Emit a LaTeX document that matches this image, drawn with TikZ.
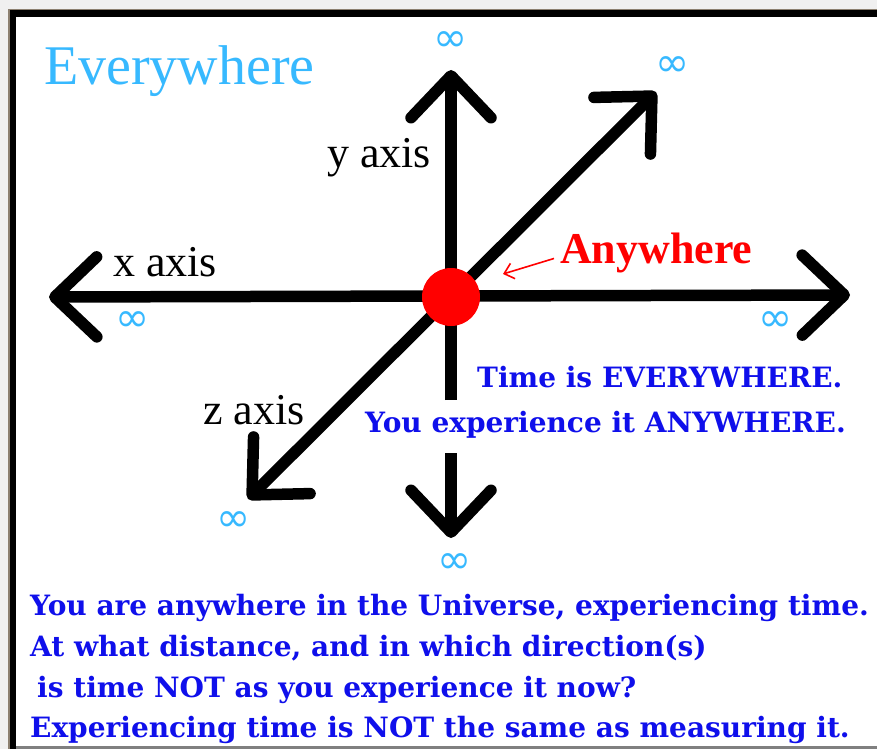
\documentclass[tikz,border=0pt]{standalone}
\usepackage{fontspec}
\setmainfont{Liberation Serif}
\newfontfamily\slabfont{DejaVu Serif}
\newfontfamily\symfont{DejaVu Sans}
\usetikzlibrary{arrows.meta}
\definecolor{skyblue}{RGB}{55,185,255}
\definecolor{textblue}{RGB}{15,15,235}
\definecolor{dotred}{RGB}{255,0,0}
\definecolor{pagegray}{RGB}{240,240,240}
\definecolor{edgebrown}{RGB}{140,128,112}

\begin{document}
\begin{tikzpicture}[
      x=1pt,y=-1pt,>={Straight Barb[length=42pt,width=80pt,round]},
      axis/.style={line width=11.5pt},
      dot/.style={circle,fill=dotred,minimum size=58pt,inner sep=0pt},
      inf/.style={text=skyblue,inner sep=0pt,font=\symfont\fontsize{41}{41}\selectfont},
      title/.style={anchor=base west,inner sep=0pt,text=skyblue,font=\fontsize{56}{56}\selectfont},
      lbl/.style={anchor=base west,inner sep=0pt,font=\fontsize{44}{44}\selectfont},
      anyw/.style={anchor=base west,inner sep=0pt,text=dotred,font=\bfseries\fontsize{44}{44}\selectfont},
      note/.style={anchor=base west,inner sep=0pt,text=textblue,font=\slabfont\bfseries\fontsize{28}{28}\selectfont},
      quote/.style={note,font=\slabfont\bfseries\fontsize{28}{28}\selectfont},
      pointer/.style={draw=dotred,line width=1.6pt,-{Straight Barb[length=9pt,width=16pt]}}]
    % frame
    \useasboundingbox (0,0) rectangle (877,749);
    \fill[pagegray] (0,0) rectangle (877,749);
    \fill[edgebrown] (8,9) rectangle (877,749);
    \fill[black] (9.5,10.5) rectangle (877,749);
    \fill[white] (16,17) rectangle (877,746);
    \fill[black!50] (16,746) rectangle (877,749);
    % axes
    \coordinate (xl) at (49,297);
    \coordinate (xr) at (850,295);
    \coordinate (yt) at (451,70);
    \coordinate (yb) at (451,538);
    \coordinate (zt) at (656,92);
    \coordinate (zb) at (248,499);
    \coordinate (ycut) at (451,400);
    \coordinate (yres) at (451,453);
    \draw[axis,<->] (xl) -- (xr);
    \draw[axis,<->] (zb) -- (zt);
    \draw[axis,->] (ycut) -- (yt);
    \draw[axis,->] (yres) -- (yb);
    \node[dot] (O) at (451,297) {};
    \foreach \n/\x/\y in {T/451/42,ZT/673/67,L/133/322,R/776/322,ZB/234/522,B/455/564}
      \node[inf] (inf\n) at (\x,\y) {∞};
    % labels
    \node[title] (every) at (44,85) {Everywhere};
    \node[lbl] (ylab) at (327,167) {y axis};
    \node[lbl] (xlab) at (113,276) {x axis};
    \node[lbl] (zlab) at (203,424) {z axis};
    \node[anyw] (any) at (560,263) {Anywhere};
    \coordinate (anytip) at (503,274);
    \draw[pointer] ([shift={(-6pt,-6pt)}]any.west) -- (anytip);
    \node[note] (time) at (477,387) {Time is EVERYWHERE.};
    \node[note] (exp) at (365,432) {You experience it ANYWHERE.};
    \node[quote] (q1) at (30,615) {You are anywhere in the Universe, experiencing time.};
    \node[quote] (q2) at (30,656) {At what distance, and in which direction(s)};
    \node[quote] (q3) at (37,697) {is time NOT as you experience it now?};
    \node[quote] (q4) at (30,737) {Experiencing time is NOT the same as measuring it.};
  \end{tikzpicture}
\end{document}
